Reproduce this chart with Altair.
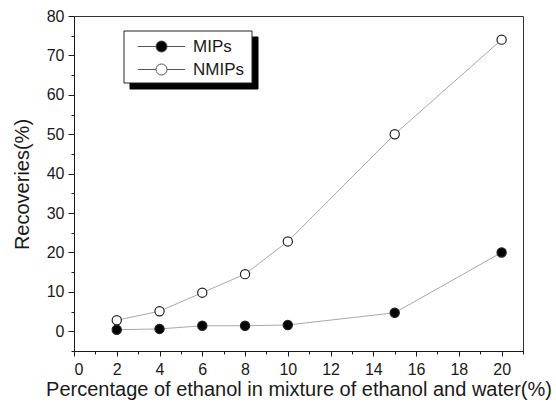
import altair as alt
import pandas as pd

# Ethanol content of the washing mixture (%)
ethanol_pct = [2, 4, 6, 8, 10, 15, 20]
# Recoveries (%) for imprinted and non-imprinted polymers
mips = [0.4, 0.6, 1.4, 1.4, 1.6, 4.7, 20.0]
nmips = [2.8, 5.1, 9.8, 14.5, 22.8, 50.0, 74.0]
series_names = ["MIPs", "NMIPs"]

# Axis ticks
x_major = list(range(0, 21, 2))
x_minor = list(range(1, 22, 2))
y_major = list(range(0, 81, 10))
y_minor = list(range(-5, 80, 10))

df = pd.DataFrame(
    {
        "pct": ethanol_pct * 2,
        "rec": mips + nmips,
        "series": [series_names[0]] * len(mips) + [series_names[1]] * len(nmips),
    }
)

FONT = "Liberation Sans"
INK = "#1a1a1a"

xscale = alt.Scale(domain=[0, 21], nice=False, zero=False)
yscale = alt.Scale(domain=[-5, 80], nice=False, zero=False)

x_axis_major = alt.Axis(
    values=x_major, orient="bottom", grid=False, tickSize=5, tickColor=INK,
    domainColor=INK, labelFont=FONT, labelFontSize=16, labelColor=INK,
    labelPadding=5, title="Percentage of ethanol in mixture of ethanol and water(%)",
    titleFont=FONT, titleFontSize=20, titleFontWeight="normal", titleColor=INK,
    titleBaseline="alphabetic", titleY=44,
)
y_axis_major = alt.Axis(
    values=y_major, orient="left", grid=False, tickSize=6, tickColor=INK,
    domainColor=INK, labelFont=FONT, labelFontSize=16, labelColor=INK,
    labelPadding=4, title="Recoveries(%)", titleFont=FONT, titleFontSize=20,
    titleFontWeight="normal", titleColor=INK, titleAngle=-90,
    titleBaseline="middle", titleAlign="center", titleX=-52, titleY=168,
)
x_axis_minor = alt.Axis(
    values=x_minor, orient="bottom", grid=False, tickSize=3, tickColor=INK,
    domain=False, labels=False, title="",
)
y_axis_minor = alt.Axis(
    values=y_minor, orient="left", grid=False, tickSize=3, tickColor=INK,
    domain=False, labels=False, title="",
)

# Legend frame: drop shadow, then a white box with a dark border
frame_df = pd.DataFrame({"k": [0]})
shadow = (
    alt.Chart(frame_df)
    .mark_rect(fill="#000000", stroke="#000000", strokeWidth=1, opacity=1)
    .encode(x=alt.value(56), x2=alt.value(184), y=alt.value(21), y2=alt.value(73))
)
frame = (
    alt.Chart(frame_df)
    .mark_rect(fill="#ffffff", stroke="#222222", strokeWidth=1, opacity=1)
    .encode(x=alt.value(50), x2=alt.value(178), y=alt.value(15), y2=alt.value(67))
)

lines = (
    alt.Chart(df)
    .mark_line(color="#a8a8a8", strokeWidth=1)
    .encode(
        x=alt.X("pct:Q", scale=xscale, axis=x_axis_major),
        y=alt.Y("rec:Q", scale=yscale, axis=y_axis_major),
        detail="series:N",
    )
)

# Legend key: short line with a circle in the middle (units of 6 px)
legend_symbol = (
    "M-0.25,0L2.75,0M4.59,0L7.58,0"
    "M2.75,0A0.92,0.92,0,1,1,4.59,0A0.92,0.92,0,1,1,2.75,0Z"
)

points = (
    alt.Chart(df)
    .mark_point(filled=True, size=85, stroke="#222222", strokeWidth=1.2, opacity=1)
    .encode(
        x=alt.X("pct:Q", scale=xscale, axis=None),
        y=alt.Y("rec:Q", scale=yscale, axis=None),
        fill=alt.Fill(
            "series:N",
            scale=alt.Scale(domain=series_names, range=["#000000", "#ffffff"]),
            legend=alt.Legend(
                title=None, orient="none", legendX=50, legendY=15,
                padding=7, symbolType=legend_symbol, symbolSize=144,
                symbolStrokeColor="#555555", symbolStrokeWidth=1,
                labelFont=FONT, labelFontSize=17, labelColor=INK,
                labelOffset=45, rowPadding=5,
            ),
        ),
    )
)

minor = (
    alt.Chart(df)
    .mark_point(opacity=0)
    .encode(
        x=alt.X("pct:Q", scale=xscale, axis=x_axis_minor),
        y=alt.Y("rec:Q", scale=yscale, axis=y_axis_minor),
    )
)

chart = (
    alt.layer(shadow, frame, lines, points, minor)
    .resolve_axis(x="independent", y="independent")
    .properties(
        width=449,
        height=335,
        autosize=alt.AutoSizeParams(type="none"),
        padding={"left": 74, "top": 16, "right": 33, "bottom": 51},
        background="#ffffff",
    )
    .configure_view(stroke="#333333", strokeWidth=1)
)

chart.save("out.html", embed_options={"renderer": "svg", "actions": False})
